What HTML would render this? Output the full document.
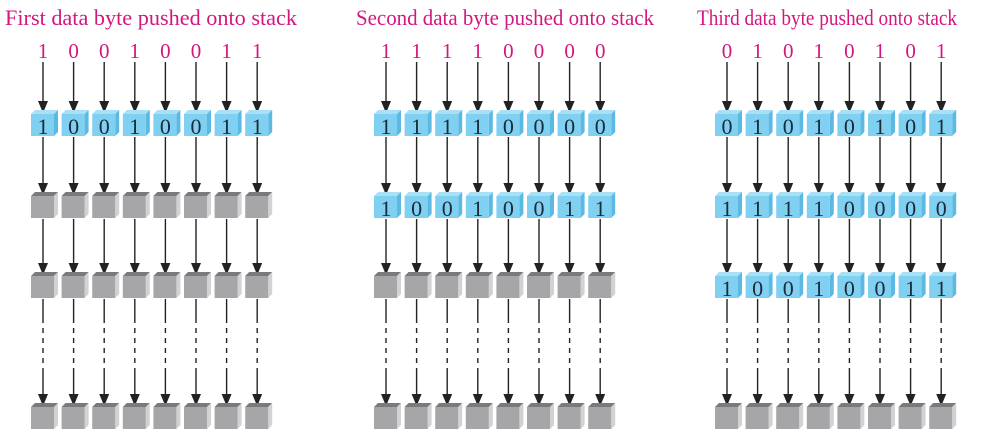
<!DOCTYPE html>
<html><head><meta charset="utf-8"><style>
html,body{margin:0;padding:0;background:#fff;}
svg{display:block;}
.t{font-family:"Liberation Serif",serif;fill:#d4177f;font-size:22px;}
.b{font-family:"Liberation Serif",serif;fill:#d4177f;font-size:21px;text-anchor:middle;}
.d{font-family:"Liberation Serif",serif;fill:#1a2a3a;font-size:22px;text-anchor:middle;}
</style></head><body>
<svg id="s" width="982" height="434" xmlns="http://www.w3.org/2000/svg">
<defs><marker id="a" markerWidth="10" markerHeight="12" refX="11" refY="5" orient="auto" markerUnits="userSpaceOnUse"><path d="M0,0 L12,5 L0,10 z" fill="#222"/></marker></defs>
<g id="g"></g>
<text class="t" x="5" y="25" textLength="292" lengthAdjust="spacingAndGlyphs">First data byte pushed onto stack</text>
<text class="t" x="356" y="25" textLength="298" lengthAdjust="spacingAndGlyphs">Second data byte pushed onto stack</text>
<text class="t" x="697" y="25" textLength="260" lengthAdjust="spacingAndGlyphs">Third data byte pushed onto stack</text>
<text class="b" y="58" x="43 73.6 104.2 134.8 165.4 196 226.6 257.2">10010011</text>
<text class="b" y="58" x="386 416.6 447.2 477.8 508.4 539 569.6 600.2">11110000</text>
<text class="b" y="58" x="727 757.6 788.2 818.8 849.4 880 910.6 941.2">01010101</text>
<g id="cubes"></g>
<text class="d" y="134" x="43 73.6 104.2 134.8 165.4 196 226.6 257.2">10010011</text>
<text class="d" y="134" x="386 416.6 447.2 477.8 508.4 539 569.6 600.2">11110000</text>
<text class="d" y="216" x="386 416.6 447.2 477.8 508.4 539 569.6 600.2">10010011</text>
<text class="d" y="134" x="727 757.6 788.2 818.8 849.4 880 910.6 941.2">01010101</text>
<text class="d" y="216" x="727 757.6 788.2 818.8 849.4 880 910.6 941.2">11110000</text>
<text class="d" y="296" x="727 757.6 788.2 818.8 849.4 880 910.6 941.2">10010011</text>
</svg>
<script>
var NS="http://www.w3.org/2000/svg";
function el(p,t,a){var e=document.createElementNS(NS,t);for(var k in a)e.setAttribute(k,a[k]);p.appendChild(e);return e;}
var g=document.getElementById("g"),cg=document.getElementById("cubes");
var offs=[0,343,684],blue=[1,2,3],tops=[110,192,272,403];
offs.forEach(function(o,p){
 for(var i=0;i<8;i++){
  var c=43+30.6*i+o;
  var ln={stroke:"#222","stroke-width":1.4};
  el(g,"line",Object.assign({x1:c,y1:62,x2:c,y2:112,"marker-end":"url(#a)"},ln));
  el(g,"line",Object.assign({x1:c,y1:137,x2:c,y2:194,"marker-end":"url(#a)"},ln));
  el(g,"line",Object.assign({x1:c,y1:219,x2:c,y2:274,"marker-end":"url(#a)"},ln));
  el(g,"line",Object.assign({x1:c,y1:299,x2:c,y2:318},ln));
  el(g,"line",Object.assign({x1:c,y1:318,x2:c,y2:372,"stroke-dasharray":"5,5"},ln));
  el(g,"line",Object.assign({x1:c,y1:372,x2:c,y2:405,"marker-end":"url(#a)"},ln));
  for(var r=0;r<4;r++){
   var t=tops[r],b=r<blue[p];
   var fr=b?"#80d0f2":"#a6a6a8",tp=b?"#a9e0f6":"#7a7a7c",sd=b?"#5cb9e2":"#d2d2d4";
   el(cg,"polygon",{points:(c-12)+","+(t+4)+" "+(c-8)+","+t+" "+(c+15)+","+t+" "+(c+11)+","+(t+4),fill:tp});
   el(cg,"polygon",{points:(c+11)+","+(t+4)+" "+(c+15)+","+t+" "+(c+15)+","+(t+22)+" "+(c+11)+","+(t+26),fill:sd});
   el(cg,"rect",{x:c-12,y:t+4,width:23,height:22,fill:fr});
  }
 }
});
</script>
</body></html>
